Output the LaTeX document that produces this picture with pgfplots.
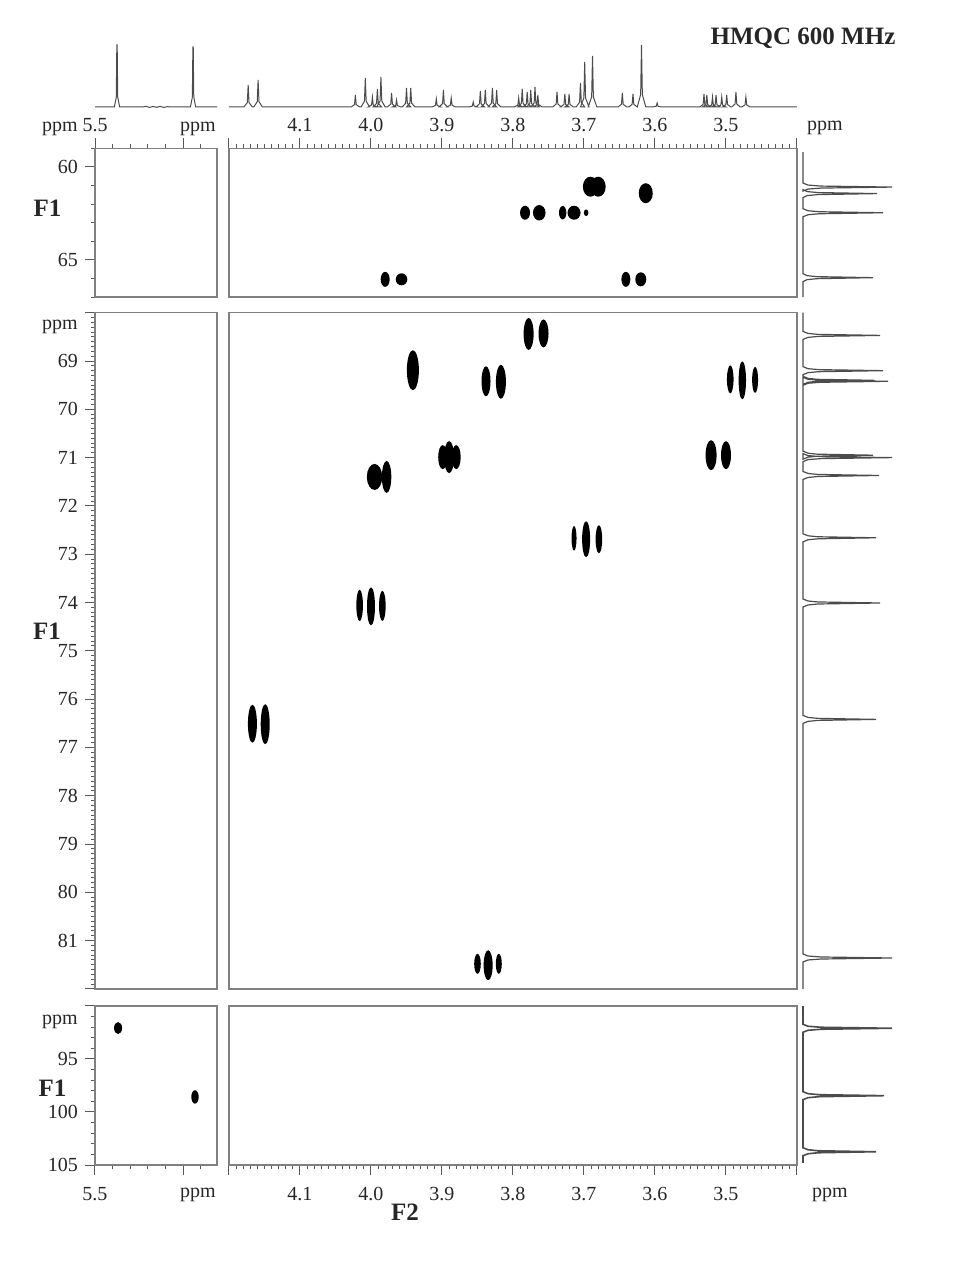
\documentclass[border=0pt]{standalone}
\usepackage{fontspec}
\setmainfont{Liberation Serif}
\usepackage{pgfplots}
\pgfplotsset{compat=1.18}
\pgfdeclareplotmark{spot}{\pgfpathellipse{\pgfpointorigin}{\pgfpoint{\spotrx pt}{0pt}}{\pgfpoint{0pt}{\spotry pt}}\pgfusepathqfill}
\pgfplotsset{
  frame/.style={scale only axis, anchor=south west, x dir=reverse, y dir=reverse,
    axis line style={draw=black!50, line width=0.8pt},
    tick style={draw=black!65, line width=0.5pt},
    tick align=outside, major tick length=5pt, minor tick length=2pt,
    tick label style={font=\fontsize{10}{12}\selectfont, text=black!85},
    xtick=\empty, ytick=\empty},
  spots/.style={scatter, only marks, mark=spot, point meta=y,
    scatter/use mapped color={draw=black, fill=black},
    visualization depends on={value \thisrow{rx} \as \spotrx},
    visualization depends on={value \thisrow{ry} \as \spotry}},
  spec/.style={draw=black!70, line width=0.5pt, mark=none},
  oned/.style={scale only axis, anchor=south west, axis lines=none, clip=false},
}
\begin{document}
\begin{tikzpicture}
\useasboundingbox (0,0) rectangle (487.5pt,640pt);

% ---------------- top 1D proton spectra ----------------
\begin{axis}[oned, at={(47.5pt,586.5pt)}, width=61pt, height=33.5pt,
  x dir=reverse, xmin=4.807, xmax=5.5, ymin=0, ymax=67]
\addplot[spec] coordinates {(5.5,0)(5.39,0)(5.379,10)(5.376,62)(5.374,62)(5.371,10)(5.36,0)
 (5.23,0)(5.21,0.6)(5.19,-0.4)(5.17,0.5)(5.15,-0.3)(5.13,0.6)(5.11,-0.4)(5.09,0.3)(5.06,0)
 (4.958,0)(4.947,10)(4.944,60)(4.942,60)(4.939,10)(4.928,0)(4.807,0)};
\end{axis}

\begin{axis}[oned, at={(114.5pt,586.5pt)}, width=284pt, height=33.5pt,
  x dir=reverse, xmin=3.4, xmax=4.2, ymin=0, ymax=67]
\addplot[spec] coordinates {(4.2,0)
(4.179,0)(4.1742,4.4)(4.173,22)(4.1718,4.4)(4.167,0)
(4.165,0)(4.1602,5.4)(4.159,27)(4.1578,5.4)(4.153,0)
(4.028,0)(4.0232,2.4)(4.022,12)(4.0208,2.4)(4.016,0)
(4.014,0)(4.0092,5.8)(4.008,29)(4.0068,5.8)(4.002,0)
(4.004,0)(3.9992,2)(3.998,10)(3.9968,2)(3.992,0)
(3.997,0)(3.9922,3.6)(3.991,18)(3.9898,3.6)(3.985,0)
(3.992,0)(3.9872,6)(3.986,30)(3.9848,6)(3.980,0)
(3.977,0)(3.9722,2.8)(3.971,14)(3.9698,2.8)(3.965,0)
(3.970,0)(3.9652,1.4)(3.964,7)(3.9628,1.4)(3.958,0)
(3.956,0)(3.9512,3.8)(3.950,19)(3.9488,3.8)(3.944,0)
(3.950,0)(3.9452,3.8)(3.944,19)(3.9428,3.8)(3.938,0)
(3.914,0)(3.9092,1.6)(3.908,8)(3.9068,1.6)(3.902,0)
(3.904,0)(3.8992,3.4)(3.898,17)(3.8968,3.4)(3.892,0)
(3.893,0)(3.8882,1.8)(3.887,9)(3.8858,1.8)(3.881,0)
(3.862,0)(3.8572,1)(3.856,5)(3.8548,1)(3.850,0)
(3.852,0)(3.8472,3.2)(3.846,16)(3.8448,3.2)(3.840,0)
(3.845,0)(3.8402,3.4)(3.839,17)(3.8378,3.4)(3.833,0)
(3.835,0)(3.8302,3.8)(3.829,19)(3.8278,3.8)(3.823,0)
(3.829,0)(3.8242,3.4)(3.823,17)(3.8218,3.4)(3.817,0)
(3.798,0)(3.7932,1.8)(3.792,9)(3.7908,1.8)(3.786,0)
(3.793,0)(3.7882,3.6)(3.787,18)(3.7858,3.6)(3.781,0)
(3.786,0)(3.7812,3)(3.780,15)(3.7788,3)(3.774,0)
(3.781,0)(3.7762,3.4)(3.775,17)(3.7738,3.4)(3.769,0)
(3.775,0)(3.7702,4)(3.769,20)(3.7678,4)(3.763,0)
(3.771,0)(3.7662,2.4)(3.765,12)(3.7638,2.4)(3.759,0)
(3.744,0)(3.7392,3)(3.738,15)(3.7368,3)(3.732,0)
(3.733,0)(3.7282,2.6)(3.727,13)(3.7258,2.6)(3.721,0)
(3.727,0)(3.7222,2.6)(3.721,13)(3.7198,2.6)(3.715,0)
(3.711,0)(3.7062,4.8)(3.705,24)(3.7038,4.8)(3.699,0)
(3.705,0)(3.7002,9)(3.699,45)(3.6978,9)(3.693,0)
(3.694,0)(3.6892,10.2)(3.688,51)(3.6868,10.2)(3.682,0)
(3.652,0)(3.6472,2.8)(3.646,14)(3.6448,2.8)(3.640,0)
(3.637,0)(3.6322,2.6)(3.631,13)(3.6298,2.6)(3.625,0)
(3.625,0)(3.6202,12.4)(3.619,62)(3.6178,12.4)(3.613,0)
(3.603,0)(3.5982,0.8)(3.597,4)(3.5958,0.8)(3.591,0)
(3.537,0)(3.5322,2.6)(3.531,13)(3.5298,2.6)(3.525,0)
(3.533,0)(3.5282,2.4)(3.527,12)(3.5258,2.4)(3.521,0)
(3.525,0)(3.5202,2)(3.519,10)(3.5178,2)(3.513,0)
(3.520,0)(3.5152,2.4)(3.514,12)(3.5128,2.4)(3.508,0)
(3.512,0)(3.5072,2)(3.506,10)(3.5048,2)(3.500,0)
(3.505,0)(3.5002,2.4)(3.499,12)(3.4978,2.4)(3.493,0)
(3.492,0)(3.4872,3)(3.486,15)(3.4848,3)(3.480,0)
(3.478,0)(3.4732,2)(3.472,10)(3.4708,2)(3.466,0)
(3.4,0)};
\end{axis}

% ---------------- right 1D carbon spectra ----------------
\begin{axis}[oned, at={(401.5pt,491.4pt)}, width=46pt, height=74.4pt,
  y dir=reverse, xmin=0, xmax=92, ymin=59, ymax=67]
\addplot[spec, line width=0.6pt] coordinates {(0,59.2)
(0,60.865)(5,60.972)(18,61.026)(89,61.08)(18,61.134)(5,61.188)(0,61.295)
(0,61.215)(4,61.322)(15,61.376)(74,61.43)(15,61.484)(4,61.538)(0,61.645)
(0,62.245)(5,62.352)(16,62.406)(80,62.46)(16,62.514)(5,62.568)(0,62.675)
(0,65.735)(4,65.842)(14,65.896)(70,65.95)(14,66.004)(4,66.058)(0,66.165)
(0,67)};
\end{axis}

\begin{axis}[oned, at={(401.5pt,145.55pt)}, width=46pt, height=338.1pt,
  y dir=reverse, xmin=0, xmax=92, ymin=68, ymax=82]
\addplot[spec, line width=0.6pt] coordinates {(0,68)
(0,68.387)(5,68.429)(15,68.449)(77,68.47)(15,68.491)(5,68.511)(0,68.553)
(0,69.117)(5,69.159)(16,69.179)(80,69.20)(16,69.221)(5,69.241)(0,69.283)
(0,69.317)(5,69.359)(14,69.379)(71,69.40)(14,69.421)(5,69.441)(0,69.483)
(0,69.337)(5,69.379)(17,69.399)(85,69.42)(17,69.441)(5,69.461)(0,69.503)
(0,70.867)(5,70.909)(14,70.929)(70,70.95)(14,70.971)(5,70.991)(0,71.033)
(0,70.917)(5,70.959)(18,70.979)(89,71.00)(18,71.021)(5,71.041)(0,71.083)
(0,71.287)(5,71.329)(15,71.349)(76,71.37)(15,71.391)(5,71.411)(0,71.453)
(0,72.577)(5,72.619)(15,72.639)(73,72.66)(15,72.681)(5,72.701)(0,72.743)
(0,73.927)(5,73.969)(15,73.989)(77,74.01)(15,74.031)(5,74.051)(0,74.093)
(0,76.337)(5,76.379)(15,76.399)(73,76.42)(15,76.441)(5,76.461)(0,76.503)
(0,81.277)(5,81.319)(18,81.339)(89,81.36)(18,81.381)(5,81.401)(0,81.443)
(0,82)};
\end{axis}

\begin{axis}[oned, at={(401.5pt,57.5pt)}, width=46pt, height=79.5pt,
  y dir=reverse, xmin=0, xmax=92, ymin=90, ymax=105]
\addplot[spec, line width=0.8pt] coordinates {(0,90)
(0,91.723)(5,91.911)(18,92.006)(89,92.1)(18,92.194)(5,92.289)(0,92.477)
(0,98.083)(5,98.271)(16,98.366)(81,98.46)(16,98.554)(5,98.649)(0,98.837)
(0,103.373)(5,103.561)(15,103.656)(73,103.75)(15,103.844)(5,103.939)(0,104.127)
(0,104.8)};
\end{axis}

% ---------------- 2D panels ----------------
% top left
\begin{axis}[frame, at={(47.5pt,491.4pt)}, width=61pt, height=74.4pt,
  xmin=4.807, xmax=5.5, ymin=59, ymax=67,
  xtick={5.0,5.5}, xticklabels={{},5.5}, minor xtick={4.9,5.1,5.2,5.3,5.4},
  xtick pos=right, xticklabel pos=right,
  ytick={60,65}, yticklabels={60,65}, minor ytick={59,61,62,63,64,66,67},
  ytick pos=left, yticklabel pos=left]
\end{axis}

% top right
\begin{axis}[frame, at={(114.5pt,491.4pt)}, width=284pt, height=74.4pt,
  xmin=3.4, xmax=4.2, ymin=59, ymax=67,
  xtick={3.4,3.5,3.6,3.7,3.8,3.9,4.0,4.1,4.2},
  xticklabels={{},3.5,3.6,3.7,3.8,3.9,4.0,4.1,{}}, minor x tick num=9,
  xtick pos=right, xticklabel pos=right]
\addplot[spots] table {
x y rx ry
3.691 61.06 3.75 5
3.680 61.06 3.75 5
3.613 61.41 3.5 5
3.783 62.46 2.5 3.5
3.763 62.46 3.15 3.85
3.730 62.46 1.85 3.35
3.714 62.46 3.25 3.5
3.697 62.46 1.15 1.65
3.980 66.04 2.25 3.75
3.957 66.04 2.9 3
3.641 66.04 2.25 3.75
3.620 66.04 2.75 3.5
};
\end{axis}

% middle left
\begin{axis}[frame, at={(47.5pt,145.55pt)}, width=61pt, height=338.1pt,
  xmin=4.807, xmax=5.5, ymin=68, ymax=82,
  ytick={68,69,70,71,72,73,74,75,76,77,78,79,80,81,82},
  yticklabels={{},69,70,71,72,73,74,75,76,77,78,79,80,81,{}},
  minor y tick num=9, ytick pos=left, yticklabel pos=left]
\end{axis}

% middle right
\begin{axis}[frame, at={(114.5pt,145.55pt)}, width=284pt, height=338.1pt,
  xmin=3.4, xmax=4.2, ymin=68, ymax=82]
\addplot[spots] table {
x y rx ry
3.778 68.44 2.5 8
3.757 68.43 2.5 7
3.941 69.19 3 10
3.838 69.42 2.25 7.5
3.817 69.43 2.5 8.5
3.899 70.99 2.25 6
3.890 70.99 2.5 8
3.880 70.99 2.25 6
3.995 71.40 3.85 6.5
3.978 71.40 2.35 8
3.494 69.38 1.65 7
3.477 69.40 1.85 9.5
3.459 69.39 1.5 6.5
3.521 70.95 2.75 7.5
3.500 70.95 2.5 7
3.714 72.67 1.25 6.15
3.697 72.69 2 9
3.679 72.69 1.65 7
4.016 74.06 1.65 7.85
4.000 74.08 2 9.5
3.984 74.07 1.65 7.5
4.167 76.51 2.25 9.5
4.149 76.52 2.25 10
3.850 81.48 1.65 5
3.835 81.51 2.25 7.5
3.820 81.48 1.5 5
};
\end{axis}

% bottom left
\begin{axis}[frame, at={(47.5pt,57.5pt)}, width=61pt, height=79.5pt,
  xmin=4.807, xmax=5.5, ymin=90, ymax=105,
  xtick={5.0,5.5}, xticklabels={{},5.5}, minor xtick={4.9,5.1,5.2,5.3,5.4},
  xtick pos=left, xticklabel pos=left,
  xticklabel style={yshift=-2.5pt},
  ytick={90,95,100,105}, yticklabels={{},95,100,105}, minor y tick num=4,
  ytick pos=left, yticklabel pos=left]
\addplot[spots] table {
x y rx ry
5.369 92.08 2 3
4.932 98.58 1.85 3.35
};
\end{axis}

% bottom right
\begin{axis}[frame, at={(114.5pt,57.5pt)}, width=284pt, height=79.5pt,
  xmin=3.4, xmax=4.2, ymin=90, ymax=105,
  xtick={3.4,3.5,3.6,3.7,3.8,3.9,4.0,4.1,4.2},
  xticklabels={{},3.5,3.6,3.7,3.8,3.9,4.0,4.1,{}}, minor x tick num=9,
  xtick pos=left, xticklabel pos=left, xticklabel style={yshift=-2.5pt}]
\end{axis}

% ---------------- labels ----------------
\begin{scope}[every node/.style={inner sep=0pt, text=black!85}]
\node[font=\fontsize{12.5}{15}\selectfont\bfseries] at (401.5pt,621pt) {HMQC 600 MHz};
\node[font=\fontsize{12.5}{15}\selectfont\bfseries] at (23.75pt,536pt) {F1};
\node[font=\fontsize{12.5}{15}\selectfont\bfseries] at (23.5pt,324.5pt) {F1};
\node[font=\fontsize{12.5}{15}\selectfont\bfseries] at (26.25pt,96pt) {F1};
\node[font=\fontsize{12.5}{15}\selectfont\bfseries] at (202.5pt,34pt) {F2};
\node[font=\fontsize{10}{12}\selectfont, anchor=base] at (30pt,574.2pt) {ppm};
\node[font=\fontsize{10}{12}\selectfont, anchor=base] at (99pt,574.2pt) {ppm};
\node[font=\fontsize{10}{12}\selectfont, anchor=base] at (412.5pt,574.5pt) {ppm};
\node[font=\fontsize{10}{12}\selectfont, anchor=base] at (30pt,475pt) {ppm};
\node[font=\fontsize{10}{12}\selectfont, anchor=base] at (30pt,127.5pt) {ppm};
\node[font=\fontsize{10}{12}\selectfont, anchor=base] at (99pt,41pt) {ppm};
\node[font=\fontsize{10}{12}\selectfont, anchor=base] at (415pt,41pt) {ppm};
\end{scope}
\end{tikzpicture}
\end{document}
